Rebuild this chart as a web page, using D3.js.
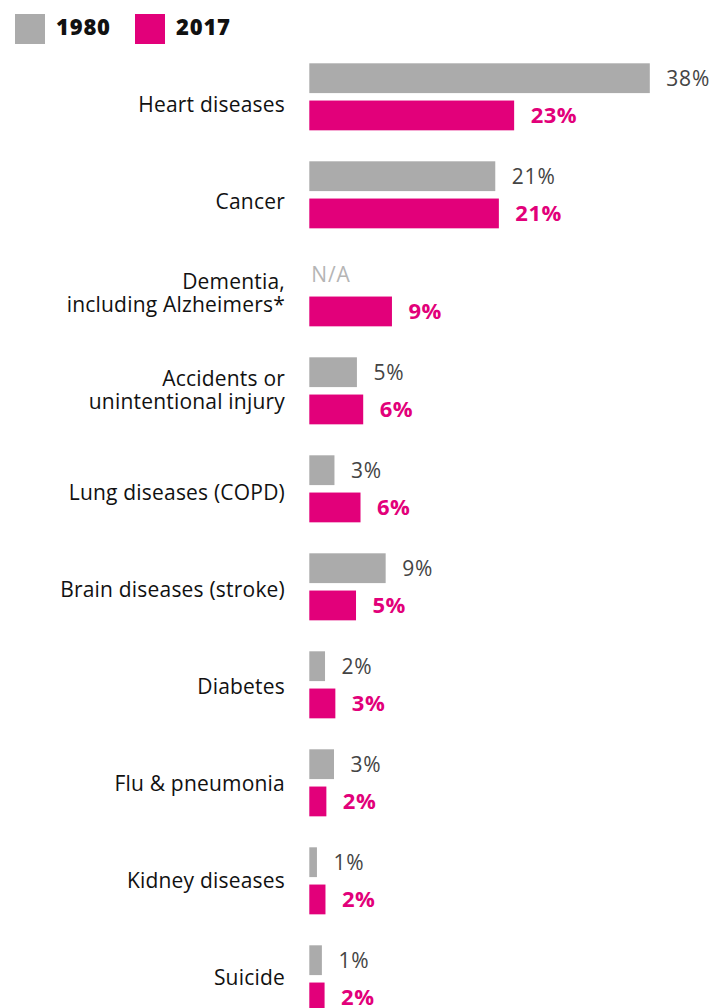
<!DOCTYPE html>
<html>
<head>
<meta charset="utf-8">
<script src="https://cdn.jsdelivr.net/npm/d3@7"></script>
<style>
  html, body { margin: 0; padding: 0; background: #fff; }
  svg { display: block; font-family: "Open Sans", Lato, sans-serif; }
</style>
</head>
<body>
<svg id="chart" width="714" height="1008"></svg>
<script>
// ---- data ----
const categories = [
  ["Heart diseases"],
  ["Cancer"],
  ["Dementia,", "including Alzheimers*"],
  ["Accidents or", "unintentional injury"],
  ["Lung diseases (COPD)"],
  ["Brain diseases (stroke)"],
  ["Diabetes"],
  ["Flu & pneumonia"],
  ["Kidney diseases"],
  ["Suicide"]
];
const years = ["1980", "2017"];
const values1980 = [37.9, 20.7, null, 5.3, 2.8, 8.5, 1.75, 2.75, 0.85, 1.4];
const values2017 = [22.8, 21.1, 9.2, 6.0, 5.7, 5.2, 2.9, 1.9, 1.8, 1.7];
const labels1980 = ["38%", "21%", "N/A", "5%", "3%", "9%", "2%", "3%", "1%", "1%"];
const labels2017 = ["23%", "21%", "9%", "6%", "6%", "5%", "3%", "2%", "2%", "2%"];

// ---- styling ----
const colors = { "1980": "#ababab", "2017": "#e2007a" };
const svg = d3.select("#chart");

const catKeys = categories.map(c => c.join(" "));
const x = d3.scaleLinear().domain([0, 38]).range([309.3, 650.7]);
const pad = 0.316;
const step = 98;
const y = d3.scaleBand().domain(catKeys)
  .range([63.3, 63.3 + step * (catKeys.length - pad)])
  .paddingInner(pad).paddingOuter(0);
const ySub = d3.scaleBand().domain(years).range([0, y.bandwidth()]).paddingInner(0.2);
// category label centres (labels are spaced slightly tighter than the bars)
const yLabel = d3.scalePoint().domain(catKeys).range([104.2, 104.2 + 97 * (catKeys.length - 1)]);

// legend
const legend = svg.append("g");
years.forEach((yr, i) => {
  const lx = i === 0 ? 15 : 135;
  legend.append("rect").attr("x", lx).attr("y", 14).attr("width", 30).attr("height", 30)
    .attr("fill", colors[yr]);
  legend.append("text").attr("x", lx + 41).attr("y", 35)
    .attr("font-size", 22).attr("font-weight", 800).attr("letter-spacing", 0.8)
    .attr("fill", "#111").text(yr);
});

const rows = categories.map((c, i) => ({
  key: catKeys[i], lines: c,
  v: { "1980": values1980[i], "2017": values2017[i] },
  l: { "1980": labels1980[i], "2017": labels2017[i] }
}));

// category labels
svg.append("g").selectAll("text").data(rows).join("text")
  .attr("text-anchor", "end").attr("font-size", 21).attr("fill", "#111")
  .attr("letter-spacing", 0.2)
  .each(function(d) {
    const c = yLabel(d.key);
    const offs = d.lines.length === 1 ? [7.5] : [-9.5, 13.5];
    d.lines.forEach((ln, j) => {
      d3.select(this).append("tspan").attr("x", 285).attr("y", c + offs[j]).text(ln);
    });
  });

const row = svg.append("g").selectAll("g.row").data(rows).join("g").attr("class", "row")
  .attr("transform", d => `translate(0,${y(d.key)})`);

years.forEach(yr => {
  row.filter(d => d.v[yr] != null).append("rect")
    .attr("x", x(0)).attr("y", ySub(yr))
    .attr("width", d => x(d.v[yr]) - x(0)).attr("height", ySub.bandwidth())
    .attr("fill", colors[yr]);
  row.append("text")
    .attr("x", d => d.v[yr] == null ? x(0) + 2 : x(d.v[yr]) + 16.5)
    .attr("y", ySub(yr) + ySub.bandwidth() / 2 + 7.8)
    .attr("font-size", yr === "2017" ? 22 : 21)
    .attr("letter-spacing", yr === "2017" ? 0.5 : 0.8)
    .attr("font-weight", yr === "2017" ? 700 : 400)
    .attr("fill", d => yr === "2017" ? colors[yr] : (d.v[yr] == null ? "#b5b5b5" : "#444"))
    .text(d => d.l[yr]);
});
</script>
</body>
</html>
